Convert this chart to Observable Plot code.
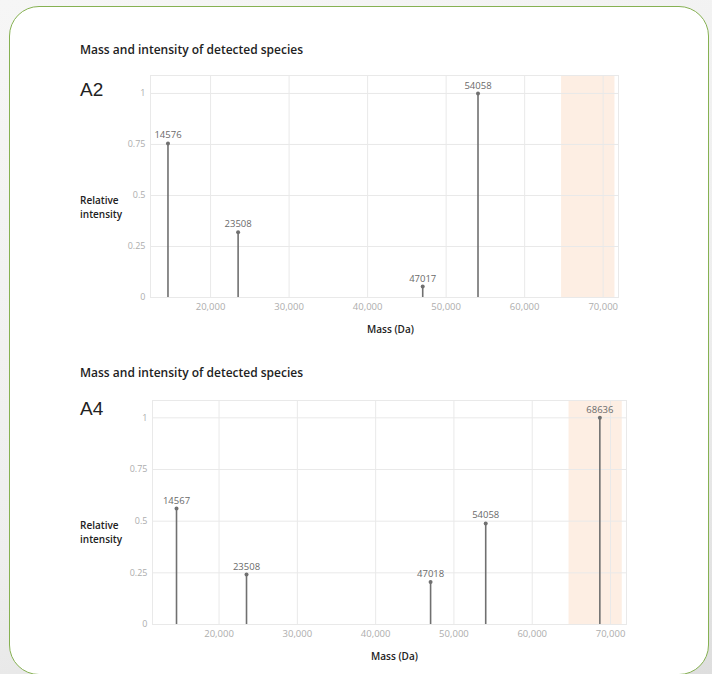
<!DOCTYPE html>
<html>
<head>
<meta charset="utf-8">
<script src="https://cdn.jsdelivr.net/npm/d3@7"></script>
<script src="https://cdn.jsdelivr.net/npm/@observablehq/plot@0.6"></script>
<style>
  html, body { margin: 0; padding: 0; }
  body {
    width: 712px; height: 674px; overflow: hidden; position: relative;
    background: linear-gradient(160deg, #f6f6f6 0%, #eeeeee 60%, #dedede 100%);
    font-family: "Open Sans", sans-serif;
  }
  #panel {
    position: absolute; left: 9px; top: 6px; width: 698px; height: 667px;
    background: #fff; border: 1.6px solid #86b152; border-radius: 30px;
  }
  .title { position: absolute; left: 80px; font-size: 12px; font-weight: 600; color: #222; white-space: nowrap; }
  .panelname { position: absolute; left: 80px; font-family: "Liberation Sans", Arial, sans-serif; font-size: 19px; color: #222; }
  .ylab { position: absolute; left: 80px; font-size: 10px; font-weight: 600; color: #222; line-height: 14px; }
  .chart { position: absolute; left: 0; }
</style>
</head>
<body>
<div id="panel"></div>
<div id="root"></div>
<script>
// ---- data ----
const chartTitle = "Mass and intensity of detected species";
const panelNames = ["A2", "A4"];
const yLabelLines = ["Relative", "intensity"];
const xLabel = "Mass (Da)";

const massA2 = [14576, 23508, 47017, 54058];
const intensityA2 = [0.755, 0.32, 0.054, 1.0];

const massA4 = [14567, 23508, 47018, 54058, 68636];
const intensityA4 = [0.561, 0.242, 0.206, 0.489, 1.0];

const xTicks = [20000, 30000, 40000, 50000, 60000, 70000];
const yTicks = [0, 0.25, 0.5, 0.75, 1];
const highlightRange = [64700, 71500];

// ---- layout ----
const root = document.getElementById("root");
function addDiv(cls, top, html) {
  const d = document.createElement("div");
  d.className = cls; d.style.top = top + "px"; d.innerHTML = html;
  root.appendChild(d); return d;
}

function makeChart(mass, intensity, opts) {
  const data = mass.map((m, i) => ({mass: m, intensity: intensity[i], label: String(m)}));
  return Plot.plot({
    width: 712,
    height: opts.height,
    marginTop: 15,
    marginBottom: 45,
    marginLeft: opts.marginLeft,
    marginRight: opts.marginRight,
    style: {fontFamily: "'Open Sans', sans-serif", fontSize: "9px", background: "transparent", overflow: "visible"},
    x: {domain: opts.xDomain},
    y: {domain: [0, opts.yMax]},
    marks: [
      Plot.rectX([{x1: highlightRange[0], x2: highlightRange[1]}], {x1: "x1", x2: "x2", fill: "#fdeee3"}),
      Plot.gridY(yTicks, {stroke: "#e9e9e9", strokeOpacity: 1}),
      Plot.gridX(xTicks, {stroke: "#e9e9e9", strokeOpacity: 1}),
      Plot.frame({stroke: "#e9e9e9"}),
      Plot.axisY(yTicks, {tickSize: 0, tickPadding: 5, color: "#adadad", label: null, tickFormat: d => String(d), fontSize: 9}),
      Plot.axisX(xTicks, {tickSize: 0, tickPadding: 6, color: "#adadad", label: null, tickFormat: d3.format(","), fontSize: 9.5}),
      Plot.ruleX(data, {x: "mass", y1: 0, y2: "intensity", stroke: "#707070", strokeWidth: 1.6}),
      Plot.dot(data, {x: "mass", y: "intensity", r: 2, fill: "#707070"}),
      Plot.text(data, {x: "mass", y: "intensity", text: "label", dy: -8, fill: "#6a6a6a", fontSize: 9.5}),
      Plot.text([xLabel], {text: d => d, frameAnchor: "bottom", dy: 35, dx: opts.labelDx, fill: "#222", fontWeight: 600, fontSize: 10})
    ]
  });
}

// Chart A2
addDiv("title", 41, chartTitle);
addDiv("panelname", 79, panelNames[0]);
addDiv("ylab", 193, yLabelLines.join("<br>"));
const c1 = makeChart(massA2, intensityA2, {height: 282, marginLeft: 150, marginRight: 94, xDomain: [12350, 71950], yMax: 1.088, labelDx: 6});
const w1 = document.createElement("div"); w1.className = "chart"; w1.style.top = "60px"; w1.appendChild(c1); root.appendChild(w1);

// Chart A4
addDiv("title", 364, chartTitle);
addDiv("panelname", 398, panelNames[1]);
addDiv("ylab", 518, yLabelLines.join("<br>"));
const c2 = makeChart(massA4, intensityA4, {height: 284, marginLeft: 152, marginRight: 86, xDomain: [11500, 72040], yMax: 1.084, labelDx: 5});
const w2 = document.createElement("div"); w2.className = "chart"; w2.style.top = "385px"; w2.appendChild(c2); root.appendChild(w2);
</script>
</body>
</html>
